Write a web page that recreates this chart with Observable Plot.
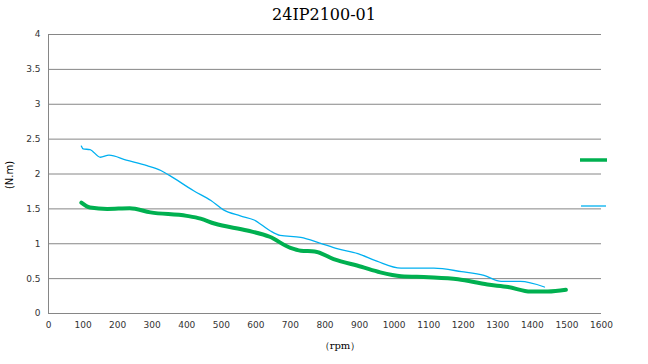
<!DOCTYPE html>
<html>
<head>
<meta charset="utf-8">
<script src="https://cdn.jsdelivr.net/npm/d3@7"></script>
<script src="https://cdn.jsdelivr.net/npm/@observablehq/plot@0.6"></script>
<style>
  body { margin: 0; background: #fff; }
  #wrap { position: relative; width: 648px; height: 364px; overflow: hidden; }
  #title { position: absolute; left: 0; top: 5px; width: 648px; text-align: center;
           font-family: "DejaVu Serif", "Liberation Serif", serif; font-size: 16px; color: #000; }
</style>
</head>
<body>
<div id="wrap">
  <div id="chart"></div>
  <div id="title">24IP2100-01</div>
</div>
<script>
const title = "24IP2100-01";
const xLabel = "（rpm）";
const yLabel = "(N.m)";
const xTicks = [0,100,200,300,400,500,600,700,800,900,1000,1100,1200,1300,1400,1500,1600];
const yTicks = [0,0.5,1,1.5,2,2.5,3,3.5,4];

// Series A (thick green)
const rpmA = [95,120,170,235,295,400,440,480,575,640,700,730,770,825,905,960,1020,1100,1185,1270,1330,1395,1445,1497];
const torqueA = [1.59,1.52,1.50,1.51,1.45,1.40,1.36,1.29,1.19,1.10,0.94,0.90,0.89,0.78,0.67,0.59,0.535,0.52,0.49,0.415,0.38,0.315,0.315,0.34];

// Series B (thin blue)
const rpmB = [95,100,120,150,175,225,285,325,350,420,470,505,555,595,640,670,730,785,835,895,950,1020,1115,1195,1260,1310,1365,1435];
const torqueB = [2.40,2.36,2.35,2.24,2.27,2.20,2.12,2.05,1.98,1.76,1.62,1.49,1.40,1.34,1.19,1.12,1.09,1.01,0.93,0.86,0.75,0.65,0.65,0.60,0.545,0.46,0.46,0.38];

const colorA = "#00B050";
const colorB = "#00B0F0";

const dataA = rpmA.map((x, i) => ({x, y: torqueA[i]}));
const dataB = rpmB.map((x, i) => ({x, y: torqueB[i]}));

const W = 648, H = 364;
const mL = 48, mR = 47, mT = 34, mB = 51;
const fmt = d => String(d);

const plot = Plot.plot({
  width: W, height: H,
  marginLeft: mL, marginRight: mR, marginTop: mT, marginBottom: mB,
  style: { fontFamily: "'DejaVu Sans', sans-serif", fontSize: "9px", color: "#333" },
  x: { domain: [0, 1600], ticks: xTicks, label: null, tickSize: 0, tickPadding: 8 },
  y: { domain: [0, 4], ticks: yTicks, label: null, tickSize: 0, tickPadding: 8 },
  marks: [
    Plot.ruleY(yTicks, { stroke: "#868686", strokeWidth: 1 }),
    Plot.ruleX([0], { stroke: "#868686", strokeWidth: 1 }),
    Plot.axisX({ ticks: xTicks, tickSize: 0, tickPadding: 8, label: null, fontSize: 9, tickFormat: fmt }),
    Plot.axisY({ ticks: yTicks, tickSize: 0, tickPadding: 8, label: null, fontSize: 9, tickFormat: fmt }),
    Plot.line(dataB, { x: "x", y: "y", stroke: colorB, strokeWidth: 1.3, curve: "monotone-x" }),
    Plot.line(dataA, { x: "x", y: "y", stroke: colorA, strokeWidth: 4, curve: "monotone-x" })
  ]
});
document.getElementById("chart").appendChild(plot);

// axis titles and legend (no series names in the original)
const svg = d3.select(plot);
svg.append("text")
  .attr("x", 340).attr("y", 349).attr("text-anchor", "middle")
  .style("font-family", "'DejaVu Serif', serif").style("font-size", "10px").attr("fill", "#000")
  .text(xLabel);
svg.append("text")
  .attr("transform", "translate(13,175) rotate(-90)").attr("text-anchor", "middle")
  .style("font-family", "'DejaVu Sans', sans-serif").style("font-size", "10px").attr("fill", "#000")
  .text(yLabel);
const leg = svg.append("g");
leg.append("line").attr("x1", 580).attr("x2", 607).attr("y1", 160).attr("y2", 160)
  .attr("stroke", colorA).attr("stroke-width", 3.5);
leg.append("line").attr("x1", 581).attr("x2", 606).attr("y1", 206).attr("y2", 206)
  .attr("stroke", colorB).attr("stroke-width", 1.3);
</script>
</body>
</html>
